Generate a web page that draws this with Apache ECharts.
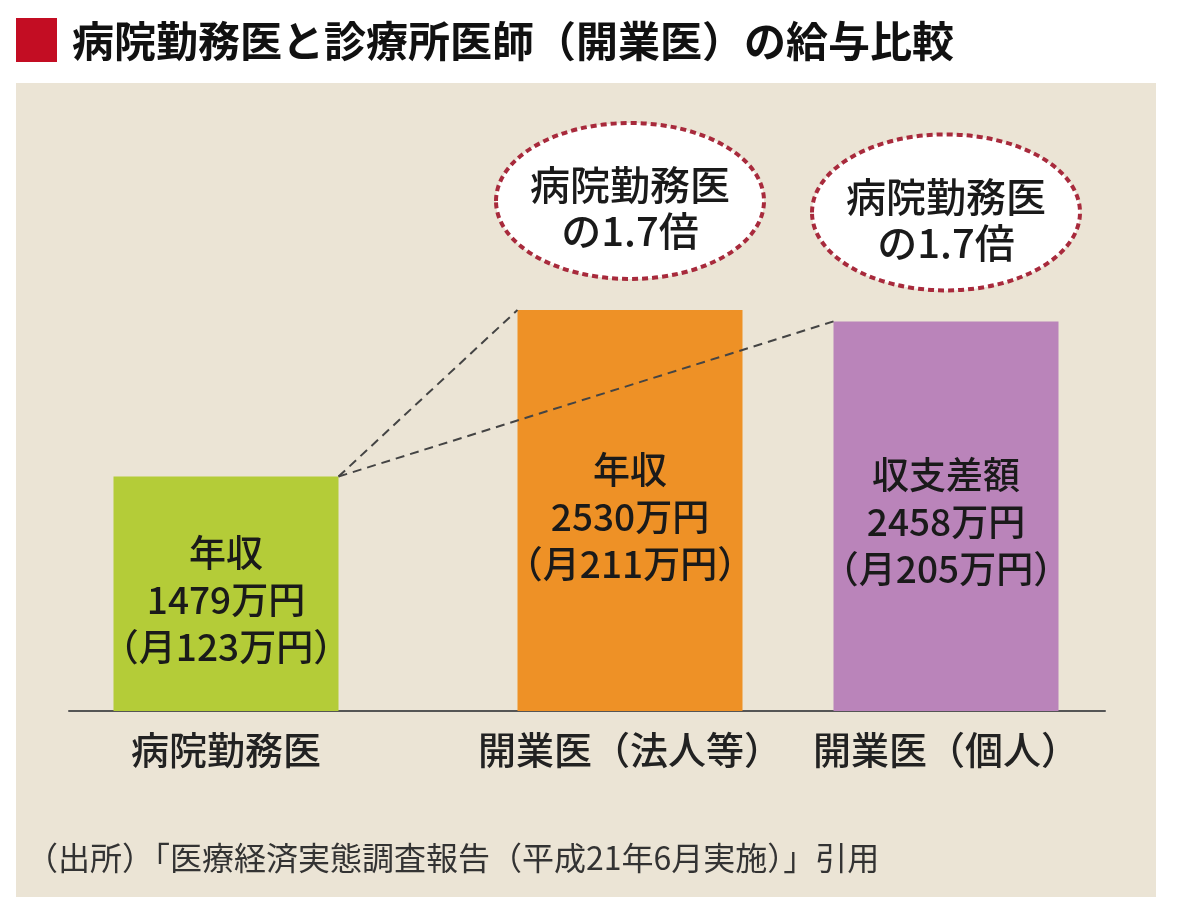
<!DOCTYPE html>
<html>
<head>
<meta charset="utf-8">
<title>病院勤務医と診療所医師（開業医）の給与比較</title>
<script src="https://cdn.jsdelivr.net/npm/echarts@6/dist/echarts.min.js"></script>
<style>
  html, body { margin: 0; padding: 0; background: #ffffff; }
  #main { width: 1180px; height: 912px; }
</style>
</head>
<body>
<div id="main"></div>
<script>
// データ
var categories = ['病院勤務医', '開業医（法人等）', '開業医（個人）'];
var labelHeads = ['年収', '年収', '収支差額'];
var annualValues = [1479, 2530, 2458];   // 万円
var monthlyValues = [123, 211, 205];     // 万円
var yMax = 4000;

// 見た目
var FONT = '"Noto Sans CJK JP", "Noto Sans", sans-serif';
var barColors = ['#B4CC38', '#EE9126', '#BA84BA'];
var barCenters = [226, 630, 946];   // 各グリッドの中心 (px)
var BAR_W = 225;

var chart = echarts.init(document.getElementById('main'));

var grids = [], xAxes = [], yAxes = [], series = [];
for (var i = 0; i < categories.length; i++) {
    grids.push({ left: barCenters[i] - 150, width: 300, top: 77, bottom: 201 });
    xAxes.push({
        type: 'category',
        gridIndex: i,
        data: [categories[i]],
        axisLine: { show: false },
        axisTick: { show: false },
        axisLabel: {
            interval: 0,
            margin: 20,
            fontSize: 38,
            fontWeight: 500,
            color: '#222',
            fontFamily: FONT
        }
    });
    yAxes.push({ type: 'value', gridIndex: i, min: 0, max: yMax, show: false });
    series.push({
        type: 'bar',
        xAxisIndex: i,
        yAxisIndex: i,
        barWidth: BAR_W,
        silent: true,
        data: [annualValues[i]],
        itemStyle: { color: barColors[i] },
        label: {
            show: true,
            position: 'inside',
            offset: [0, 6],
            fontSize: 37,
            fontWeight: 500,
            lineHeight: 47,
            color: '#1a1a1a',
            fontFamily: FONT,
            formatter: (function (k) {
                return function () {
                    return labelHeads[k] + '\n' + annualValues[k] + '万円\n（月' + monthlyValues[k] + '万円）';
                };
            })(i)
        }
    });
}

// 横の基線（全幅）
grids.push({ left: 69, right: 75, top: 77, bottom: 201 });
xAxes.push({
    type: 'value', gridIndex: 3, min: 0, max: 1,
    axisLine: { show: true, onZero: false, lineStyle: { color: '#555', width: 2 } },
    axisTick: { show: false }, axisLabel: { show: false }, splitLine: { show: false }
});
yAxes.push({ type: 'value', gridIndex: 3, min: 0, max: 1, show: false });

chart.setOption({
    animation: false,
    grid: grids,
    xAxis: xAxes,
    yAxis: yAxes,
    series: series
});

// 棒の上端を取得して注記を配置
var tops = [];
for (var j = 0; j < categories.length; j++) {
    tops.push(chart.convertToPixel({ gridIndex: j }, [0, annualValues[j]]));
}
var half = BAR_W / 2;

var elements = [
    {
        type: 'rect', z: -10,
        shape: { x: 16, y: 83, width: 1140, height: 814 },
        style: { fill: '#EBE4D5' }
    },
    {
        type: 'rect',
        shape: { x: 16, y: 18, width: 41, height: 44 },
        style: { fill: '#C30D23' }
    },
    {
        type: 'text', x: 72, y: 41,
        style: {
            text: '病院勤務医と診療所医師（開業医）の給与比較',
            font: 'bold 42px ' + FONT,
            fill: '#111',
            textVerticalAlign: 'middle'
        }
    },
    {
        type: 'text', x: 26, y: 858,
        style: {
            text: '（出所）「医療経済実態調査報告（平成21年6月実施）」引用',
            font: '32px ' + FONT,
            fill: '#333',
            textVerticalAlign: 'middle'
        }
    }
];

for (var k = 1; k < categories.length; k++) {
    elements.push({
        type: 'line', z: 10,
        shape: { x1: tops[0][0] + half, y1: tops[0][1], x2: tops[k][0] - half, y2: tops[k][1] },
        style: { stroke: '#444', lineWidth: 2, lineDash: [9, 6] }
    });
    var cy = tops[k][1] - 109;
    elements.push({
        type: 'ellipse', z: 11,
        shape: { cx: tops[k][0], cy: cy, rx: 134, ry: 78 },
        style: { fill: '#fff', stroke: '#A82A3C', lineWidth: 4, lineDash: [6, 4] }
    });
    var ratio = (annualValues[k] / annualValues[0]).toFixed(1);
    elements.push({
        type: 'text', z: 12, x: tops[k][0], y: cy + 7,
        style: {
            text: '病院勤務医\nの' + ratio + '倍',
            font: '500 40px ' + FONT,
            lineHeight: 46,
            fill: '#1a1a1a',
            textAlign: 'center',
            textVerticalAlign: 'middle'
        }
    });
}

chart.setOption({ graphic: { elements: elements } });
</script>
</body>
</html>
